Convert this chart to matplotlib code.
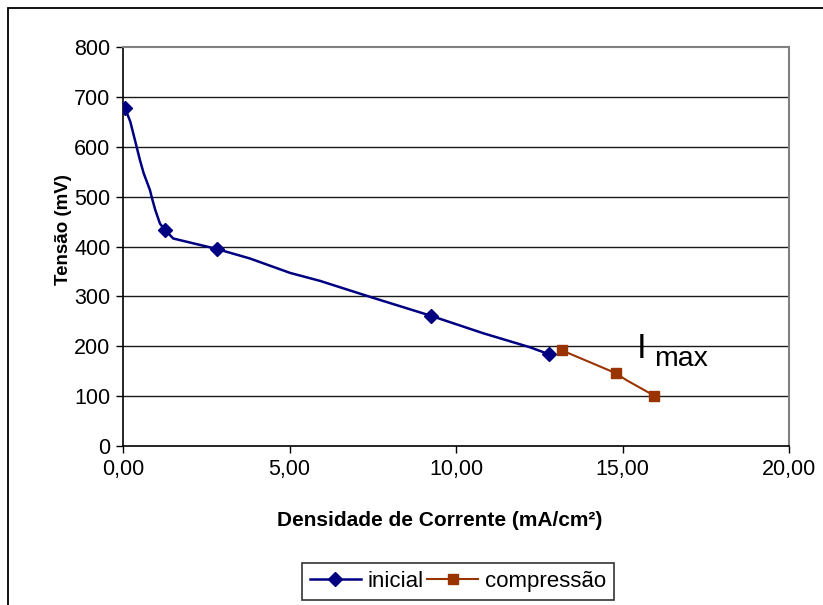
import matplotlib
matplotlib.use("Agg")
import matplotlib.pyplot as plt
from matplotlib.patches import Rectangle

plt.rcParams['font.family'] = ['Liberation Sans', 'DejaVu Sans']

# inicial: line path (smoothed curve) and the points with markers
inicial_line_x = [0.06, 0.22, 0.36, 0.51, 0.62, 0.81, 0.87, 0.97, 1.11, 1.26, 1.51,
                  2.82, 3.81, 5.02, 5.92, 7.42, 9.25, 10.82, 12.22, 12.79]
inicial_line_y = [678, 650, 613, 573, 547, 513, 497, 473, 446, 433, 416,
                  395, 376, 347, 331, 299, 261, 226, 198, 184]
inicial_x = [0.06, 1.26, 2.82, 9.25, 12.79]
inicial_y = [678, 433, 395, 261, 184]

# compressao
compressao_line_x = [13.17, 14.80, 15.12, 15.95]
compressao_line_y = [192, 146, 132, 101]
compressao_x = [13.17, 14.80, 15.95]
compressao_y = [192, 146, 101]

x_ticks = [0, 5, 10, 15, 20]
y_ticks = [0, 100, 200, 300, 400, 500, 600, 700, 800]

blue = '#000080'
orange = '#993300'

W, H = 823, 605
fig = plt.figure(figsize=(W / 100, H / 100), dpi=100)
ax = fig.add_axes([123 / W, 1 - 446 / H, (789 - 123) / W, (446 - 47) / H])

for v in y_ticks[1:-1]:
    ax.axhline(v, color='#1a1a1a', lw=1.0, zorder=1)

ax.plot(inicial_line_x, inicial_line_y, color=blue, lw=1.8, zorder=3)
ax.plot(inicial_x, inicial_y, ls='none', marker='D', ms=7, color=blue, zorder=4)
ax.plot(compressao_line_x, compressao_line_y, color=orange, lw=1.5, zorder=3)
ax.plot(compressao_x, compressao_y, ls='none', marker='s', ms=7.5, color=orange, zorder=4)

ax.set_xlim(0, 20)
ax.set_ylim(0, 800)
ax.set_xticks(x_ticks)
ax.set_xticklabels([f"{t:.2f}".replace('.', ',') for t in x_ticks])
ax.set_yticks(y_ticks)
ax.tick_params(direction='out', length=5, width=1, labelsize=15.5, pad=4, colors='black')

for s in ['left', 'bottom']:
    ax.spines[s].set_color('black')
    ax.spines[s].set_linewidth(1.2)
for s in ['top', 'right']:
    ax.spines[s].set_color('#808080')
    ax.spines[s].set_linewidth(1.5)

# axis titles placed where the reference has them
fig.text(440 / W, 1 - 520 / H, 'Densidade de Corrente (mA/cm²)', fontsize=15,
         fontweight='bold', ha='center', va='center')
fig.text(64 / W, 1 - 230 / H, 'Tensão (mV)', fontsize=13.5, fontweight='bold',
         ha='center', va='center', rotation=90)

# I_max annotation
fig.text(637 / W, 1 - 358 / H, 'I', fontsize=25, ha='left', va='baseline')
fig.text(654 / W, 1 - 366 / H, 'max', fontsize=20.5, ha='left', va='baseline')

# legend
h1, = ax.plot([], [], color=blue, lw=1.8, marker='D', ms=7)
h2, = ax.plot([], [], color=orange, lw=1.5, marker='s', ms=7.5)
leg = fig.legend([h1, h2], ['inicial', 'compressão'], loc='upper left',
                 bbox_to_anchor=(302 / W, 1 - 563 / H), ncol=2, fontsize=16,
                 frameon=True, fancybox=False, edgecolor='black', handlelength=2.3,
                 handletextpad=0.3, columnspacing=0.15, borderpad=0.35, borderaxespad=0)
leg.get_frame().set_linewidth(1.2)

# outer chart border
fig.patches.append(Rectangle((8 / W, -0.1), 1.2, 1.1 - 8 / H, transform=fig.transFigure,
                             fill=False, edgecolor='black', lw=1.3))

fig.savefig('out.png', dpi=100)
